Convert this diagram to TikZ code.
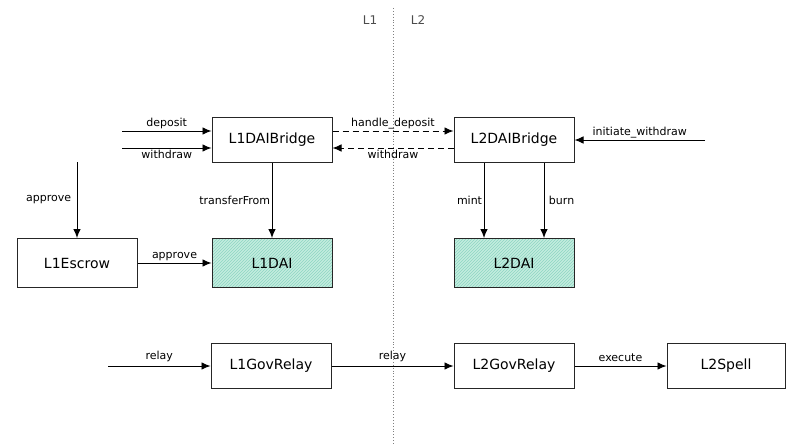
\documentclass[tikz,border=0pt]{standalone}
\usepackage{fontspec}
\setmainfont{DejaVu Sans}
\usetikzlibrary{patterns, arrows.meta}
\definecolor{daifill}{HTML}{C4ECDF}
\definecolor{daihatch}{HTML}{8ED6C2}

\tikzset{contract box/.style={
    	draw=black!85, line width=1pt, minimum width=120pt, minimum height=45pt,
    	inner sep=0pt, font=\fontsize{14}{16}\selectfont
  	},
  	token box/.style={
    	contract box, minimum height=49pt, preaction={fill=daifill},
    	pattern=north east lines, pattern color=daihatch
  	},
  	call/.style={font=\fontsize{11}{13}\selectfont, inner sep=1.5pt},
  	cross/.style={dash pattern=on 6pt off 4pt},
  	every path/.append style={line width=0.9pt},
  	>={Latex[length=9pt, width=7.5pt]}
}

\begin{document}
\begin{tikzpicture}[x=1pt, y=-1pt]
		\useasboundingbox (0,0) rectangle (808,444);
		% L1 | L2 split
		\draw [gray, dotted, line width=1pt] (393,8) -- (393,444);
		\node [font=\fontsize{12}{14}\selectfont, text=black!70] (l1) at (370,20) {L1};
		\node [font=\fontsize{12}{14}\selectfont, text=black!70] (l2) at (418,20) {L2};

		\node [contract box] (l1bridge) at (272,140) {L1DAIBridge};
		\node [contract box] (l2bridge) at (514,140) {L2DAIBridge};
		\node [token box] (l1dai) at (272,263) {L1DAI};
		\node [token box] (l2dai) at (514,263) {L2DAI};
		\node [contract box, minimum height=49pt] (escrow) at (77,263) {L1Escrow};
		\node [contract box] (l1gov) at (271,366) {L1GovRelay};
		\node [contract box] (l2gov) at (514,366) {L2GovRelay};
		\node [contract box, minimum width=118pt] (spell) at (726,366) {L2Spell};

		% free ends
		\coordinate (depin) at (122,131);
		\coordinate (wdin) at (122,148);
		\coordinate (initin) at (705,140);
		\coordinate (appin) at (77,162);
		\coordinate (relayin) at (108,366);

		% bridge calls
		\draw [->] (depin) -- (depin -| l1bridge.west) node [call, midway, above] {deposit};
		\draw [->] (wdin) -- (wdin -| l1bridge.west) node [call, midway, below] {withdraw};
		\draw [->, cross] (l1bridge.east |- depin) -- (l2bridge.west |- depin) node [call, midway, above] {handle\_deposit};
		\draw [->, cross] (l2bridge.west |- wdin) -- (l1bridge.east |- wdin) node [call, midway, below] {withdraw};
		\draw [->] (initin) -- (l2bridge.east) node [call, midway, above] {initiate\_withdraw};

		% token calls
		\draw [->] (l1bridge) -- (l1dai) node [call, midway, left] {transferFrom};
		\draw [->] (appin) -- (escrow) node [call, midway, left, xshift=-4pt] {approve};
		\draw [->] (escrow) -- (l1dai) node [call, midway, above] {approve};
		\draw [->] ([xshift=-30pt]l2bridge.south) -- ([xshift=-30pt]l2dai.north) node [call, midway, left] {mint};
		\draw [->] ([xshift=30pt]l2bridge.south) -- ([xshift=30pt]l2dai.north) node [call, midway, right, xshift=3pt] {burn};

		% governance
		\draw [->] (relayin) -- (l1gov) node [call, midway, above, yshift=2pt] {relay};
		\draw [->] (l1gov) -- (l2gov) node [call, midway, above, yshift=2pt] {relay};
		\draw [->] (l2gov) -- (spell) node [call, midway, above, yshift=2pt] {execute};
	\end{tikzpicture}
\end{document}
